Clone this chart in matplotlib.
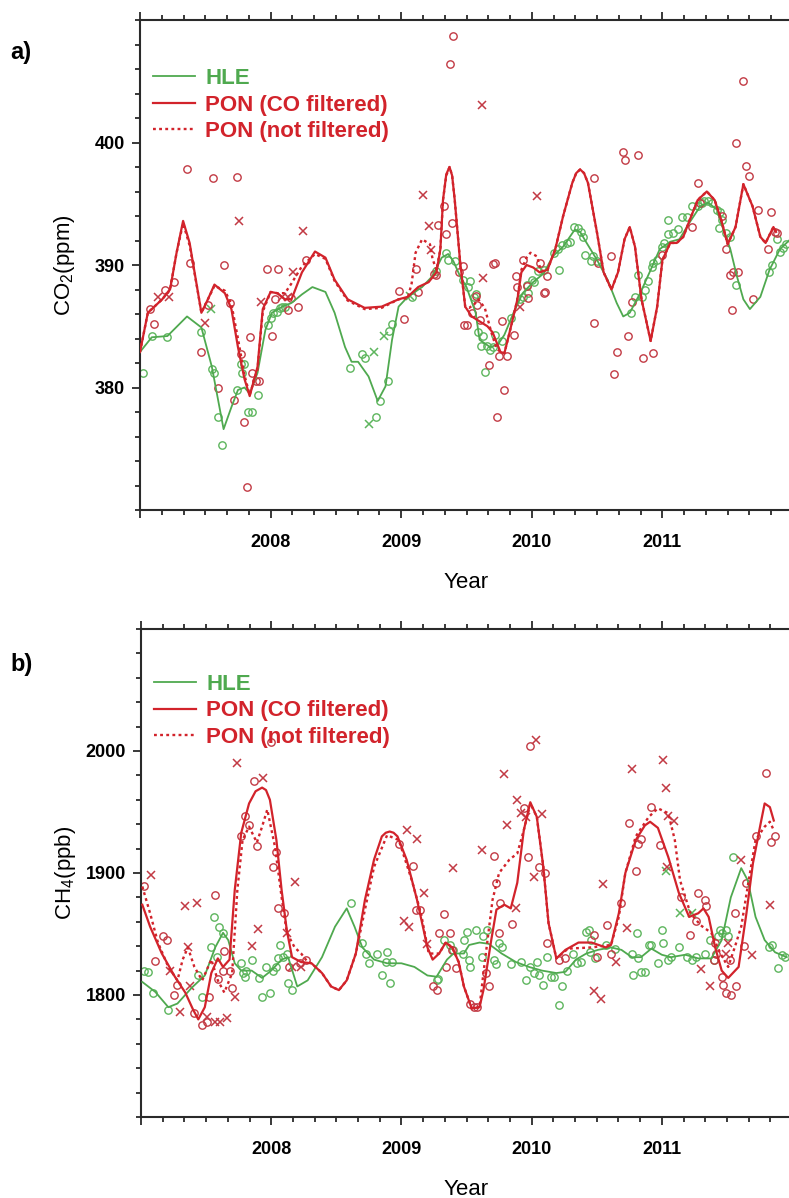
import matplotlib
matplotlib.use('Agg')
import matplotlib.pyplot as plt
from matplotlib.ticker import MultipleLocator, FixedLocator
from matplotlib.lines import Line2D

plt.rcParams['font.family'] = ['Liberation Sans', 'DejaVu Sans']
plt.rcParams['mathtext.fontset'] = 'custom'
plt.rcParams['mathtext.rm'] = 'Liberation Sans'
plt.rcParams['mathtext.it'] = 'Liberation Sans:italic'
plt.rcParams['mathtext.bf'] = 'Liberation Sans:bold'

# ---------------- common ----------------
year_ticks = [2007, 2008, 2009, 2010, 2011]
year_labels = ['', '2008', '2009', '2010', '2011']
legend_labels = ['HLE', 'PON (CO filtered)', 'PON (not filtered)']

# ---------------- panel a : CO2 ----------------
co2_ticks = [380, 390, 400]

co2_hle_line_x = [2007.00, 2007.09, 2007.21, 2007.36, 2007.47, 2007.55, 2007.64, 2007.70, 2007.75, 2007.80, 2007.84, 2007.90, 2007.96,
                  2008.01, 2008.09, 2008.16, 2008.24, 2008.32, 2008.42, 2008.49, 2008.57, 2008.62, 2008.67, 2008.75, 2008.82, 2008.88, 2008.93, 2008.98,
                  2009.05, 2009.16, 2009.24, 2009.31, 2009.36, 2009.40, 2009.45, 2009.50, 2009.57, 2009.60, 2009.68, 2009.74, 2009.79, 2009.86, 2009.93,
                  2010.01, 2010.09, 2010.16, 2010.24, 2010.33, 2010.37, 2010.42, 2010.50, 2010.58, 2010.65, 2010.70, 2010.75, 2010.83, 2010.91, 2010.98,
                  2011.06, 2011.13, 2011.21, 2011.29, 2011.35, 2011.42, 2011.46, 2011.52, 2011.57, 2011.62, 2011.67, 2011.75, 2011.82, 2011.90, 2011.98]
co2_hle_line_y = [382.9, 384.1, 384.2, 385.8, 384.9, 381.7, 376.6, 378.4, 379.8, 380.0, 379.5, 381.2, 384.7,
                  386.1, 386.6, 386.9, 387.6, 388.2, 387.8, 386.1, 383.3, 382.1, 382.1, 380.9, 378.9, 380.1, 383.9, 386.6,
                  387.4, 388.2, 389.1, 390.6, 390.9, 390.3, 389.1, 388.2, 386.1, 383.9, 383.3, 383.5, 384.3, 386.1, 387.7,
                  388.6, 389.3, 390.7, 391.5, 392.9, 392.7, 391.8, 390.4, 388.8, 386.9, 385.8, 386.1, 387.7, 389.6, 391.3,
                  391.9, 392.1, 393.5, 394.8, 395.1, 394.5, 393.1, 391.3, 389.1, 387.2, 386.4, 387.4, 389.6, 391.3, 392.1]

co2_pon_line_x = [2007.00, 2007.06, 2007.17, 2007.23, 2007.28, 2007.33, 2007.38, 2007.44, 2007.47, 2007.52, 2007.57, 2007.65, 2007.70, 2007.75, 2007.80, 2007.84, 2007.90, 2007.94,
                  2008.00, 2008.05, 2008.11, 2008.16, 2008.24, 2008.34, 2008.42, 2008.49, 2008.59, 2008.72, 2008.85, 2008.98,
                  2009.05, 2009.13, 2009.21, 2009.27, 2009.30, 2009.32, 2009.345, 2009.37, 2009.39, 2009.41, 2009.45, 2009.49, 2009.54, 2009.60, 2009.66, 2009.70, 2009.76, 2009.79, 2009.83, 2009.89, 2009.92, 2009.96,
                  2010.01, 2010.06, 2010.12, 2010.18, 2010.24, 2010.31, 2010.34, 2010.37, 2010.40, 2010.43, 2010.50, 2010.55, 2010.61, 2010.66, 2010.71, 2010.75, 2010.79, 2010.84, 2010.91, 2010.96,
                  2011.00, 2011.06, 2011.11, 2011.16, 2011.21, 2011.27, 2011.34, 2011.40, 2011.45, 2011.50, 2011.56, 2011.62, 2011.69, 2011.75, 2011.79, 2011.85, 2011.87]
co2_pon_line_y = [382.9, 386.1, 387.2, 388.0, 391.0, 393.6, 391.8, 388.0, 386.1, 387.2, 388.4, 387.7, 386.4, 383.3, 380.7, 379.3, 381.7, 386.4,
                  387.8, 387.7, 387.2, 387.2, 389.4, 391.1, 390.6, 388.8, 387.2, 386.5, 386.6, 387.2,
                  387.4, 388.2, 388.6, 389.4, 391.3, 395.3, 397.4, 398.0, 397.3, 395.3, 390.4, 386.6, 385.8, 385.4, 385.0, 384.5, 382.9, 382.8, 384.5, 387.2, 389.4, 390.0,
                  389.8, 389.4, 389.6, 391.3, 394.0, 396.7, 397.5, 397.8, 397.5, 396.7, 392.6, 389.4, 388.0, 389.4, 392.1, 393.1, 391.5, 387.2, 383.8, 386.6,
                  390.4, 391.8, 391.8, 392.3, 393.7, 395.3, 396.0, 395.3, 393.7, 391.7, 393.1, 396.6, 394.8, 392.3, 391.8, 393.1, 392.7]

co2_ponnf_line_x = [2007.00, 2007.06, 2007.17, 2007.23, 2007.28, 2007.33, 2007.38, 2007.44, 2007.47, 2007.52, 2007.57, 2007.65, 2007.70, 2007.75, 2007.80, 2007.84, 2007.90, 2007.94,
                    2008.00, 2008.05, 2008.11, 2008.16, 2008.24, 2008.34, 2008.42, 2008.49, 2008.59, 2008.72, 2008.85, 2008.98,
                    2009.05, 2009.08, 2009.11, 2009.16, 2009.22, 2009.24, 2009.27, 2009.30, 2009.32, 2009.345, 2009.37, 2009.39, 2009.41, 2009.45, 2009.49, 2009.52, 2009.56, 2009.59, 2009.64, 2009.69, 2009.73, 2009.76, 2009.79, 2009.83, 2009.89, 2009.92, 2009.96, 2009.99,
                    2010.04, 2010.07, 2010.12, 2010.18, 2010.24, 2010.31, 2010.34, 2010.37, 2010.40, 2010.43, 2010.50, 2010.55, 2010.61, 2010.66, 2010.71, 2010.75, 2010.79, 2010.84, 2010.91, 2010.96,
                    2011.00, 2011.06, 2011.11, 2011.16, 2011.21, 2011.27, 2011.34, 2011.40, 2011.45, 2011.50, 2011.56, 2011.62, 2011.69, 2011.75, 2011.79, 2011.85, 2011.87]
co2_ponnf_line_y = [382.9, 386.1, 387.2, 388.0, 391.0, 393.4, 391.6, 388.0, 386.1, 387.2, 388.3, 387.9, 386.8, 384.0, 381.0, 379.4, 381.5, 386.2,
                    387.8, 387.7, 387.7, 388.5, 389.9, 390.9, 390.5, 388.7, 387.1, 386.4, 386.5, 387.2,
                    387.3, 388.5, 391.0, 392.1, 391.7, 390.5, 389.6, 391.3, 395.3, 397.3, 398.0, 397.3, 395.3, 390.4, 386.6, 386.5, 386.8, 387.2, 386.5, 384.5, 383.2, 382.9, 382.8, 384.5, 387.2, 389.6, 390.6, 391.0,
                    390.7, 389.5, 389.6, 391.3, 394.0, 396.7, 397.5, 397.8, 397.5, 396.7, 392.6, 389.4, 388.0, 389.4, 392.1, 393.1, 391.5, 387.2, 383.8, 386.6,
                    390.4, 391.8, 391.8, 392.3, 393.7, 395.3, 396.0, 395.3, 393.7, 391.7, 393.1, 396.6, 394.8, 392.3, 391.8, 393.1, 392.7]

co2_hle_o_x = [2007.02, 2007.09, 2007.21, 2007.47, 2007.55, 2007.57, 2007.60, 2007.63, 2007.74, 2007.77,
               2007.78, 2007.80, 2007.83, 2007.86, 2007.90, 2007.98, 2008.00, 2008.02, 2008.05, 2008.07,
               2008.09, 2008.11, 2008.61, 2008.70, 2008.72, 2008.81, 2008.84, 2008.90, 2008.91, 2008.93,
               2009.08, 2009.27, 2009.34, 2009.36, 2009.41, 2009.47, 2009.51, 2009.53, 2009.56, 2009.57,
               2009.59, 2009.61, 2009.63, 2009.64, 2009.66, 2009.68, 2009.70, 2009.72, 2009.77, 2009.84,
               2009.91, 2009.93, 2009.96, 2009.97, 2010.00, 2010.02, 2010.05, 2010.09, 2010.17, 2010.20,
               2010.21, 2010.23, 2010.27, 2010.29, 2010.32, 2010.35, 2010.38, 2010.39, 2010.41, 2010.45,
               2010.47, 2010.50, 2010.76, 2010.79, 2010.81, 2010.84, 2010.87, 2010.89, 2010.92, 2010.93,
               2010.96, 2011.00, 2011.01, 2011.04, 2011.045, 2011.08, 2011.12, 2011.15, 2011.19, 2011.23,
               2011.27, 2011.30, 2011.32, 2011.35, 2011.38, 2011.42, 2011.43, 2011.44, 2011.46, 2011.49,
               2011.52, 2011.56, 2011.82, 2011.84, 2011.88, 2011.90, 2011.92, 2011.95]
co2_hle_o_y = [381.2, 384.2, 384.1, 384.5, 381.5, 381.2, 377.6, 375.3, 379.8, 381.9,
               381.2, 381.9, 378.0, 378.0, 379.4, 385.1, 385.7, 386.1, 386.2, 386.5,
               386.6, 386.6, 381.6, 382.7, 382.4, 377.6, 378.9, 380.5, 384.6, 385.2,
               387.4, 389.5, 391.0, 390.4, 390.3, 388.8, 388.2, 388.7, 387.4, 387.6,
               384.5, 383.4, 384.2, 381.3, 383.4, 383.1, 383.3, 384.3, 383.8, 385.7,
               387.2, 387.4, 388.4, 387.7, 388.8, 388.6, 389.5, 389.6, 391.0, 391.3,
               389.6, 391.6, 391.8, 391.9, 393.1, 393.0, 392.7, 392.3, 390.8, 390.3,
               390.7, 390.3, 386.1, 387.4, 389.2, 387.4, 388.0, 388.7, 389.8, 390.2,
               390.4, 391.5, 391.8, 393.7, 392.5, 392.6, 392.9, 393.9, 393.9, 394.8,
               394.8, 395.1, 395.2, 395.2, 395.1, 394.5, 393.0, 394.3, 393.7, 392.6,
               392.3, 388.4, 389.4, 390.0, 392.1, 391.1, 391.4, 391.7]

co2_hle_x_x = [2007.54, 2008.75, 2008.79, 2008.87, 2009.07]
co2_hle_x_y = [386.4, 377.0, 382.9, 384.2, 387.5]

co2_pon_o_x = [2007.08, 2007.11, 2007.19, 2007.26, 2007.36, 2007.38, 2007.47, 2007.52, 2007.56, 2007.60,
               2007.64, 2007.69, 2007.72, 2007.74, 2007.77, 2007.80, 2007.82, 2007.84, 2007.86, 2007.89,
               2007.91, 2007.97, 2008.01, 2008.03, 2008.06, 2008.13, 2008.16, 2008.21, 2008.27, 2008.98,
               2009.02, 2009.11, 2009.13, 2009.25, 2009.27, 2009.28, 2009.33, 2009.34, 2009.37, 2009.39,
               2009.40, 2009.44, 2009.47, 2009.48, 2009.50, 2009.54, 2009.57, 2009.58, 2009.60, 2009.67,
               2009.70, 2009.72, 2009.73, 2009.75, 2009.77, 2009.79, 2009.81, 2009.86, 2009.88, 2009.89,
               2009.93, 2009.96, 2009.97, 2010.06, 2010.09, 2010.10, 2010.12, 2010.48, 2010.48, 2010.51,
               2010.61, 2010.63, 2010.65, 2010.70, 2010.71, 2010.74, 2010.77, 2010.81, 2010.85, 2010.93,
               2011.00, 2011.23, 2011.27, 2011.29, 2011.46, 2011.49, 2011.52, 2011.53, 2011.54, 2011.56,
               2011.58, 2011.62, 2011.64, 2011.66, 2011.69, 2011.73, 2011.81, 2011.83, 2011.86, 2011.88]
co2_pon_o_y = [386.4, 385.2, 388.0, 388.6, 397.8, 390.2, 382.9, 386.7, 397.1, 380.0,
               390.0, 386.9, 379.0, 397.2, 382.7, 377.2, 371.9, 384.1, 381.2, 380.5,
               380.5, 389.7, 384.2, 387.2, 389.7, 386.3, 387.3, 386.6, 390.4, 387.9,
               385.6, 389.7, 387.8, 389.3, 389.2, 393.3, 394.8, 392.5, 406.4, 393.4,
               408.7, 389.4, 389.9, 385.1, 385.1, 386.1, 387.5, 386.7, 385.5, 381.8,
               390.1, 390.2, 377.6, 382.6, 385.4, 379.8, 382.6, 384.3, 389.1, 388.2,
               390.4, 388.3, 387.3, 390.2, 387.7, 387.8, 389.1, 397.1, 385.3, 390.2,
               390.7, 381.1, 382.9, 399.2, 398.6, 384.2, 387.0, 399.0, 382.4, 382.8,
               390.8, 393.1, 396.7, 395.1, 394.0, 391.3, 389.2, 386.3, 389.4, 400.0,
               389.4, 405.0, 398.1, 397.3, 387.2, 394.5, 391.3, 394.3, 392.7, 392.6]

co2_pon_x_x = [2007.14, 2007.22, 2007.50, 2007.76, 2007.93, 2008.09, 2008.13, 2008.17, 2008.25,
               2009.17, 2009.21, 2009.23, 2009.62, 2009.63, 2009.91, 2010.04]
co2_pon_x_y = [387.4, 387.4, 385.3, 393.6, 387.0, 387.4, 387.4, 389.4, 392.8,
               395.7, 393.2, 391.2, 403.1, 388.9, 386.6, 395.6]

# ---------------- panel b : CH4 ----------------
ch4_ticks = [1800, 1900, 2000]

ch4_hle_line_x = [2007.01, 2007.11, 2007.21, 2007.28, 2007.39, 2007.49, 2007.57, 2007.63, 2007.67, 2007.72, 2007.77, 2007.85, 2007.93,
                  2008.00, 2008.08, 2008.13, 2008.20, 2008.28, 2008.39, 2008.49, 2008.58, 2008.64, 2008.70, 2008.79, 2008.89,
                  2009.00, 2009.10, 2009.20, 2009.27, 2009.35, 2009.40, 2009.48, 2009.52, 2009.60, 2009.67, 2009.77, 2009.88, 2009.98,
                  2010.08, 2010.19, 2010.26, 2010.34, 2010.42, 2010.51, 2010.61, 2010.69, 2010.77, 2010.84, 2010.92,
                  2011.00, 2011.07, 2011.18, 2011.28, 2011.38, 2011.46, 2011.53, 2011.61, 2011.66, 2011.72, 2011.79, 2011.87, 2011.96]
ch4_hle_line_y = [1810.7, 1802.5, 1790, 1793, 1806, 1816, 1839, 1851, 1845, 1826, 1820, 1820, 1814,
                  1820, 1829, 1831, 1807, 1812, 1831, 1856, 1871, 1856, 1839, 1829, 1826,
                  1826, 1823, 1816, 1815, 1829, 1834, 1834, 1841, 1843, 1842, 1834, 1827, 1823,
                  1820, 1818, 1819, 1829, 1834, 1837, 1839, 1837, 1831, 1831, 1838,
                  1833, 1831, 1833, 1830, 1830, 1845, 1880, 1904, 1894, 1864, 1845, 1835, 1831]

ch4_pon_line_x = [2007.01, 2007.07, 2007.16, 2007.26, 2007.34, 2007.40, 2007.44, 2007.49, 2007.54, 2007.59, 2007.63, 2007.68, 2007.72, 2007.77, 2007.83, 2007.88, 2007.93, 2007.96, 2007.99,
                  2008.04, 2008.08, 2008.12, 2008.16, 2008.23, 2008.31, 2008.39, 2008.46, 2008.52, 2008.58, 2008.65, 2008.72, 2008.79, 2008.85, 2008.88, 2008.91, 2008.94, 2008.97,
                  2009.04, 2009.12, 2009.20, 2009.24, 2009.29, 2009.34, 2009.39, 2009.44, 2009.48, 2009.54, 2009.60, 2009.63, 2009.69, 2009.73, 2009.79, 2009.84, 2009.89, 2009.94, 2009.99,
                  2010.04, 2010.09, 2010.13, 2010.19, 2010.26, 2010.36, 2010.46, 2010.57, 2010.61, 2010.67, 2010.72, 2010.80, 2010.87, 2010.91, 2010.97,
                  2011.05, 2011.13, 2011.21, 2011.28, 2011.32, 2011.36, 2011.41, 2011.46, 2011.51, 2011.59, 2011.65, 2011.70, 2011.76, 2011.79, 2011.83, 2011.86]
ch4_pon_line_y = [1874, 1856, 1834, 1815, 1802, 1788, 1780, 1790, 1818, 1830, 1823, 1829, 1886, 1933, 1957, 1967, 1970, 1968, 1960,
                  1927, 1886, 1853, 1831, 1827, 1826, 1818, 1807, 1804, 1812, 1834, 1878, 1911, 1930, 1933, 1934, 1933, 1930,
                  1911, 1878, 1839, 1829, 1834, 1843, 1839, 1827, 1807, 1789, 1790, 1804, 1845, 1870, 1874, 1871, 1892, 1935, 1958,
                  1946, 1905, 1859, 1830, 1837, 1843, 1843, 1839, 1841, 1867, 1900, 1927, 1939, 1942, 1937,
                  1913, 1884, 1864, 1867, 1871, 1864, 1839, 1820, 1814, 1823, 1867, 1908, 1941, 1957, 1954, 1943]

ch4_ponnf_line_x = [2007.01, 2007.07, 2007.13, 2007.21, 2007.28, 2007.32, 2007.36, 2007.41, 2007.47, 2007.54, 2007.59, 2007.64, 2007.70, 2007.74, 2007.78, 2007.83, 2007.89, 2007.93, 2007.97,
                    2008.03, 2008.08, 2008.12, 2008.18, 2008.23, 2008.28, 2008.31, 2008.39, 2008.46, 2008.52, 2008.58, 2008.65, 2008.72, 2008.79, 2008.89, 2008.98,
                    2009.08, 2009.15, 2009.21, 2009.29, 2009.34, 2009.39, 2009.44, 2009.48, 2009.54, 2009.60, 2009.63, 2009.70, 2009.75, 2009.83, 2009.89, 2009.94, 2009.99,
                    2010.04, 2010.09, 2010.13, 2010.19, 2010.28, 2010.46, 2010.61, 2010.67, 2010.72, 2010.80, 2010.90, 2010.97,
                    2011.05, 2011.10, 2011.14, 2011.22, 2011.30, 2011.38, 2011.45, 2011.51, 2011.56, 2011.61, 2011.66, 2011.72, 2011.79, 2011.83, 2011.86]
ch4_ponnf_line_y = [1889, 1867, 1843, 1823, 1812, 1829, 1839, 1823, 1812, 1829, 1812, 1802, 1818, 1886, 1927, 1938, 1925, 1938, 1952,
                    1921, 1880, 1851, 1839, 1834, 1827, 1826, 1818, 1807, 1804, 1812, 1834, 1870, 1905, 1931, 1927,
                    1894, 1867, 1834, 1834, 1843, 1839, 1827, 1807, 1789, 1790, 1818, 1878, 1900, 1911, 1916, 1935, 1957,
                    1946, 1905, 1859, 1830, 1838, 1839, 1841, 1864, 1900, 1930, 1946, 1953,
                    1949, 1927, 1894, 1867, 1857, 1851, 1834, 1823, 1839, 1856, 1889, 1927, 1938, 1942, 1935]

ch4_hle_o_x = [2007.02, 2007.05, 2007.09, 2007.21, 2007.44, 2007.47, 2007.54, 2007.56, 2007.58, 2007.60,
               2007.63, 2007.77, 2007.78, 2007.80, 2007.81, 2007.85, 2007.91, 2007.93, 2007.96, 2007.99,
               2008.01, 2008.04, 2008.05, 2008.07, 2008.09, 2008.12, 2008.13, 2008.16, 2008.61, 2008.70,
               2008.73, 2008.75, 2008.81, 2008.85, 2008.88, 2008.89, 2008.91, 2008.93, 2009.27, 2009.28,
               2009.33, 2009.37, 2009.40, 2009.47, 2009.48, 2009.50, 2009.52, 2009.53, 2009.57, 2009.62,
               2009.63, 2009.66, 2009.71, 2009.73, 2009.75, 2009.77, 2009.84, 2009.92, 2009.96, 2009.99,
               2010.02, 2010.04, 2010.06, 2010.09, 2010.12, 2010.15, 2010.17, 2010.21, 2010.23, 2010.27,
               2010.32, 2010.35, 2010.38, 2010.42, 2010.44, 2010.45, 2010.46, 2010.49, 2010.57, 2010.64,
               2010.77, 2010.78, 2010.81, 2010.82, 2010.84, 2010.87, 2010.90, 2010.92, 2010.97, 2011.00,
               2011.01, 2011.05, 2011.07, 2011.13, 2011.19, 2011.23, 2011.26, 2011.33, 2011.37, 2011.40,
               2011.43, 2011.45, 2011.46, 2011.49, 2011.51, 2011.55, 2011.82, 2011.85, 2011.89, 2011.92,
               2011.95]
ch4_hle_o_y = [1820, 1819, 1802, 1788, 1816, 1798, 1839, 1864, 1831, 1856,
               1851, 1826, 1818, 1815, 1820, 1829, 1814, 1798, 1823, 1802,
               1820, 1823, 1830, 1841, 1831, 1834, 1810, 1804, 1875, 1843,
               1834, 1826, 1834, 1816, 1827, 1835, 1810, 1827, 1812, 1813,
               1845, 1841, 1837, 1834, 1845, 1852, 1829, 1823, 1853, 1831,
               1848, 1853, 1829, 1825, 1843, 1839, 1825, 1827, 1812, 1823,
               1818, 1827, 1816, 1808, 1831, 1815, 1815, 1792, 1807, 1820,
               1834, 1826, 1827, 1852, 1853, 1835, 1845, 1830, 1841, 1838,
               1834, 1816, 1851, 1830, 1819, 1819, 1841, 1841, 1826, 1853,
               1843, 1829, 1831, 1839, 1831, 1829, 1831, 1834, 1845, 1829,
               1848, 1853, 1851, 1853, 1848, 1913, 1839, 1841, 1822, 1833,
               1831]

ch4_hle_x_x = [2011.03, 2011.14, 2011.23]
ch4_hle_x_y = [1902, 1867, 1867]

ch4_pon_o_x = [2007.02, 2007.11, 2007.17, 2007.20, 2007.25, 2007.28, 2007.41, 2007.47, 2007.51, 2007.52,
               2007.57, 2007.59, 2007.63, 2007.64, 2007.68, 2007.70, 2007.77, 2007.80, 2007.83, 2007.87,
               2007.89, 2008.00, 2008.01, 2008.04, 2008.05, 2008.10, 2008.14, 2008.22, 2008.27, 2008.98,
               2009.09, 2009.11, 2009.14, 2009.24, 2009.27, 2009.29, 2009.33, 2009.34, 2009.37, 2009.39,
               2009.42, 2009.53, 2009.56, 2009.58, 2009.65, 2009.67, 2009.71, 2009.73, 2009.75, 2009.76,
               2009.85, 2009.94, 2009.97, 2009.99, 2010.06, 2010.10, 2010.12, 2010.21, 2010.26, 2010.48,
               2010.50, 2010.58, 2010.61, 2010.69, 2010.75, 2010.80, 2010.82, 2010.84, 2010.92, 2010.99,
               2011.15, 2011.22, 2011.26, 2011.28, 2011.33, 2011.34, 2011.40, 2011.41, 2011.42, 2011.46,
               2011.47, 2011.49, 2011.52, 2011.53, 2011.56, 2011.57, 2011.63, 2011.65, 2011.72, 2011.80,
               2011.84, 2011.87]
ch4_pon_o_y = [1889, 1828, 1848, 1845, 1800, 1808, 1785, 1775, 1778, 1798,
               1882, 1813, 1820, 1836, 1820, 1806, 1930, 1947, 1939, 1975,
               1922, 2007, 1905, 1917, 1871, 1867, 1823, 1826, 1829, 1924,
               1906, 1870, 1870, 1807, 1804, 1851, 1866, 1823, 1851, 1837,
               1822, 1793, 1790, 1790, 1818, 1807, 1914, 1892, 1851, 1875,
               1858, 1953, 1913, 2004, 1905, 1900, 1843, 1829, 1830, 1849,
               1831, 1857, 1834, 1875, 1941, 1902, 1924, 1928, 1954, 1923,
               1880, 1849, 1861, 1884, 1878, 1873, 1829, 1843, 1834, 1815,
               1808, 1802, 1829, 1800, 1867, 1807, 1840, 1892, 1930, 1982,
               1925, 1930]

ch4_pon_x_x = [2007.08, 2007.22, 2007.30, 2007.34, 2007.36, 2007.38, 2007.43, 2007.51, 2007.57, 2007.61,
               2007.66, 2007.72, 2007.74, 2007.85, 2007.90, 2007.94, 2008.12, 2008.16, 2008.18, 2008.23,
               2009.02, 2009.04, 2009.06, 2009.12, 2009.17, 2009.20, 2009.40, 2009.62, 2009.79, 2009.81,
               2009.88, 2009.89, 2009.92, 2009.96, 2010.02, 2010.03, 2010.08, 2010.48, 2010.53, 2010.55,
               2010.65, 2010.73, 2010.77, 2011.01, 2011.03, 2011.04, 2011.05, 2011.09, 2011.30, 2011.37,
               2011.49, 2011.51, 2011.61, 2011.69, 2011.83]
ch4_pon_x_y = [1898, 1820, 1786, 1873, 1839, 1807, 1875, 1782, 1778, 1778,
               1781, 1798, 1990, 1840, 1854, 1978, 1851, 1823, 1893, 1823,
               1861, 1935, 1856, 1928, 1884, 1842, 1904, 1919, 1981, 1939,
               1871, 1960, 1949, 1946, 1897, 2009, 1948, 1803, 1797, 1891,
               1827, 1855, 1985, 1993, 1970, 1905, 1947, 1943, 1821, 1807,
               1834, 1843, 1911, 1833, 1874]

# ---------------- styling ----------------
GREEN = '#4fa94f'
GREEN_M = '#5db55d'
RED = '#d2232b'
RED_M = '#c23a44'
SPINE = '#2a2a2a'
DOT = (0, (1.2, 1.4))

fig = plt.figure(figsize=(7.89, 11.98), dpi=100)
W, H = 789.0, 1198.0
ax_a = fig.add_axes([140 / W, 1 - 510 / H, 653 / W, 490 / H])
ax_b = fig.add_axes([141 / W, 1 - 1117 / H, 651 / W, 488 / H])


def draw_panel(ax, hle_l, pon_l, ponnf_l, hle_o, hle_x, pon_o, pon_x):
    ax.plot(*hle_o, linestyle='none', marker='o', ms=5.3, mfc='none', mec=GREEN_M, mew=1.0, zorder=2)
    ax.plot(*hle_x, linestyle='none', marker='x', ms=5.5, mec=GREEN_M, mew=1.1, zorder=2)
    ax.plot(*pon_o, linestyle='none', marker='o', ms=5.3, mfc='none', mec=RED_M, mew=1.0, zorder=2)
    ax.plot(*pon_x, linestyle='none', marker='x', ms=5.5, mec=RED_M, mew=1.1, zorder=2)
    ax.plot(*hle_l, color=GREEN, lw=1.3, zorder=3)
    ax.plot(*ponnf_l, color=RED, lw=1.7, ls=DOT, zorder=3)
    ax.plot(*pon_l, color=RED, lw=1.6, zorder=4)


def style_panel(ax, ylim, yticks, yminor, ylabel, leg_y, tag, tag_y, year_y):
    ax.set_xlim(2007, 2012)
    ax.set_ylim(*ylim)
    ax.xaxis.set_major_locator(FixedLocator(year_ticks))
    ax.set_xticklabels(year_labels)
    ax.xaxis.set_minor_locator(MultipleLocator(1 / 6))
    ax.yaxis.set_major_locator(FixedLocator(yticks))
    ax.yaxis.set_minor_locator(MultipleLocator(yminor))
    ax.tick_params(axis='x', which='both', top=True, bottom=True, labeltop=False)
    ax.tick_params(which='both', direction='out', color=SPINE, width=1.3)
    ax.tick_params(which='major', length=6)
    ax.tick_params(which='minor', length=3.5)
    ax.tick_params(axis='x', which='major', pad=11.5)
    ax.tick_params(axis='y', which='major', pad=5)
    for lab in ax.get_xticklabels() + ax.get_yticklabels():
        lab.set_fontweight('bold')
        lab.set_fontsize(13)
    ax.spines['right'].set_visible(False)
    for s in ['left', 'bottom', 'top']:
        ax.spines[s].set_color(SPINE)
        ax.spines[s].set_linewidth(1.5)
    ax.set_ylabel(ylabel, fontsize=16)
    ax.yaxis.set_label_coords(-0.097, 0.5)
    ax.set_xlabel('Year', fontsize=16, va='baseline')
    ax.xaxis.set_label_coords(0.5, -year_y)
    handles = [Line2D([], [], color=GREEN, lw=1.3),
               Line2D([], [], color=RED, lw=1.6),
               Line2D([], [], color=RED, lw=1.7, ls=DOT)]
    leg = ax.legend(handles, legend_labels, loc='upper left', bbox_to_anchor=(0.02, leg_y),
                    frameon=False, borderaxespad=0, borderpad=0, handlelength=1.9,
                    handletextpad=0.45, labelspacing=0.25, prop={'weight': 'bold', 'size': 16})
    for t, c in zip(leg.get_texts(), [GREEN, RED, RED]):
        t.set_color(c)
    fig.text(10 / W, 1 - tag_y / H, tag, fontsize=17, fontweight='bold', va='center', ha='left')


draw_panel(ax_a, (co2_hle_line_x, co2_hle_line_y), (co2_pon_line_x, co2_pon_line_y),
           (co2_ponnf_line_x, co2_ponnf_line_y), (co2_hle_o_x, co2_hle_o_y), (co2_hle_x_x, co2_hle_x_y),
           (co2_pon_o_x, co2_pon_o_y), (co2_pon_x_x, co2_pon_x_y))
style_panel(ax_a, (370, 410), co2_ticks, 2, 'CO$_\\mathregular{2}$(ppm)', 0.902, 'a)', 53, 0.159)

draw_panel(ax_b, (ch4_hle_line_x, ch4_hle_line_y), (ch4_pon_line_x, ch4_pon_line_y),
           (ch4_ponnf_line_x, ch4_ponnf_line_y), (ch4_hle_o_x, ch4_hle_o_y), (ch4_hle_x_x, ch4_hle_x_y),
           (ch4_pon_o_x, ch4_pon_o_y), (ch4_pon_x_x, ch4_pon_x_y))
style_panel(ax_b, (1700, 2100), ch4_ticks, 20, 'CH$_\\mathregular{4}$(ppb)', 0.908, 'b)', 664, 0.160)

fig.savefig('out.png', dpi=100)
